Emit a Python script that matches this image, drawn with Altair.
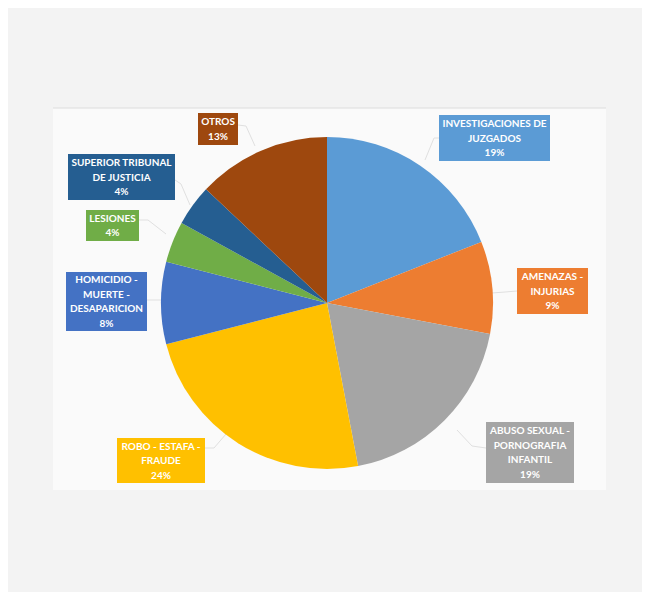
import altair as alt
import pandas as pd

# ---- data ----
categories = [
    "INVESTIGACIONES DE JUZGADOS",
    "AMENAZAS - INJURIAS",
    "ABUSO SEXUAL - PORNOGRAFIA INFANTIL",
    "ROBO - ESTAFA - FRAUDE",
    "HOMICIDIO - MUERTE - DESAPARICION",
    "LESIONES",
    "SUPERIOR TRIBUNAL DE JUSTICIA",
    "OTROS",
]
label_lines = [
    "INVESTIGACIONES DE\nJUZGADOS",
    "AMENAZAS -\nINJURIAS",
    "ABUSO SEXUAL -\nPORNOGRAFIA\nINFANTIL",
    "ROBO - ESTAFA -\nFRAUDE",
    "HOMICIDIO -\nMUERTE -\nDESAPARICION",
    "LESIONES",
    "SUPERIOR TRIBUNAL\nDE JUSTICIA",
    "OTROS",
]
values = [19, 9, 19, 24, 8, 4, 4, 13]
colors = ["#5B9BD5", "#ED7D31", "#A5A5A5", "#FFC000",
          "#4472C4", "#70AD47", "#255E91", "#9E480E"]

# ---- layout (page pixel coords of label boxes) ----
OFF = 8
LH = 14.5
box_x1 = [439, 517, 486, 117, 66, 86, 68, 198]
box_x2 = [550, 588, 574, 205, 147, 139, 175, 238]
box_y1 = [115, 268, 422, 438, 272, 210, 154, 113]
box_y2 = [161, 314, 483, 483, 331, 241, 200, 145]
leaders = [
    [(439, 138), (434, 138), (425, 160)],
    [(517, 291), (505, 292), (492, 293)],
    [(486, 448), (472, 446), (457, 430)],
    [(205, 448), (214, 448), (226, 434)],
    [(147, 300), (156, 300), (162, 300)],
    [(139, 220), (148, 220), (166, 234)],
    [(175, 180), (181, 184), (190, 205)],
    [(238, 125), (246, 126), (255, 146)],
]

total = sum(values)
pie_df = pd.DataFrame({
    "cat": categories,
    "value": values,
    "idx": list(range(len(values))),
})

texts_full = [l + "\n" + f"{round(v / total * 100)}%" for l, v in zip(label_lines, values)]
nlines = [t.count("\n") + 1 for t in texts_full]
lab_df = pd.DataFrame({
    "cat": categories,
    "text": texts_full,
    "x1": [v - OFF for v in box_x1],
    "x2": [v - OFF for v in box_x2],
    "y1": [v - OFF for v in box_y1],
    "y2": [v - OFF for v in box_y2],
})
lab_df["xc"] = (lab_df["x1"] + lab_df["x2"]) / 2
lab_df["yt"] = [(a + b) / 2 + 0.5 - (n - 1) / 2 * LH
                for a, b, n in zip(lab_df["y1"], lab_df["y2"], nlines)]

lead_rows = []
for i, pts in enumerate(leaders):
    for j, (px, py) in enumerate(pts):
        lead_rows.append({"g": i, "o": j, "x": px - OFF, "y": py - OFF})
lead_df = pd.DataFrame(lead_rows)

W, H = 634, 584
xs = alt.Scale(domain=[0, W], range=[0, W])
ys = alt.Scale(domain=[0, H], range=[0, H])
color_scale = alt.Scale(domain=categories, range=colors)

panel = alt.Chart(pd.DataFrame({"a": [0]})).mark_rect(color="#fafafa").encode(
    x=alt.value(53 - OFF), x2=alt.value(606 - OFF),
    y=alt.value(108 - OFF), y2=alt.value(490 - OFF),
)
topline = alt.Chart(pd.DataFrame({"a": [0]})).mark_rule(color="#dcdcdc", strokeWidth=1).encode(
    x=alt.value(53 - OFF), x2=alt.value(606 - OFF), y=alt.value(108 - OFF),
)

lead = alt.Chart(lead_df).mark_line(color="#e0e0e0", strokeWidth=1).encode(
    x=alt.X("x:Q", scale=xs, axis=None),
    y=alt.Y("y:Q", scale=ys, axis=None),
    detail="g:N",
    order="o:Q",
)

pie = alt.Chart(pie_df).mark_arc(radius=166).encode(
    theta=alt.Theta("value:Q", stack=True),
    color=alt.Color("cat:N", scale=color_scale, legend=None),
    order=alt.Order("idx:Q"),
    x=alt.value(327 - OFF),
    y=alt.value(303 - OFF),
)

boxes = alt.Chart(lab_df).mark_rect().encode(
    x=alt.X("x1:Q", scale=xs, axis=None),
    x2="x2:Q",
    y=alt.Y("y1:Q", scale=ys, axis=None),
    y2="y2:Q",
    color=alt.Color("cat:N", scale=color_scale, legend=None),
)

texts = alt.Chart(lab_df).mark_text(
    color="white", fontWeight="bold", fontSize=10, lineHeight=LH,
    font="Lato",
    align="center", baseline="middle", lineBreak="\n",
).encode(
    x=alt.X("xc:Q", scale=xs, axis=None),
    y=alt.Y("yt:Q", scale=ys, axis=None),
    text="text:N",
)

chart = alt.layer(panel, topline, lead, pie, boxes, texts).properties(
    width=W, height=H, background="#f3f3f3", padding=0,
    autosize=alt.AutoSizeParams(type="none"),
).configure_view(stroke=None)

chart.save("out.html", embed_options={"renderer": "svg", "actions": False})
